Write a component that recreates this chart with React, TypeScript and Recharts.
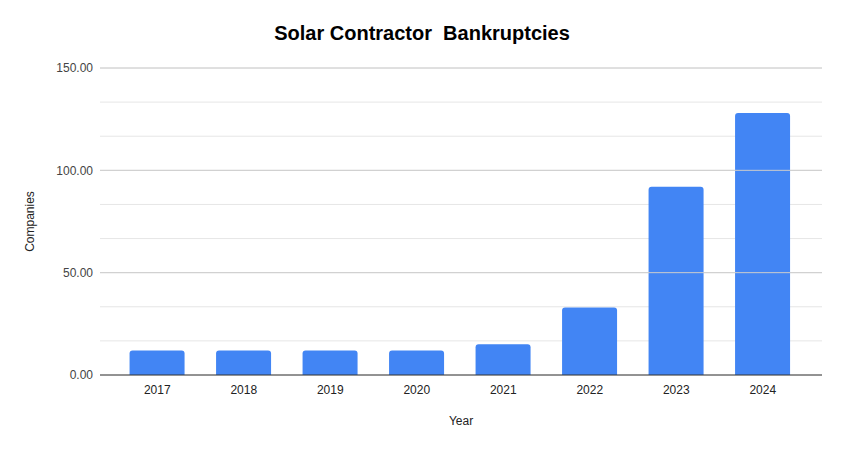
import { BarChart, Bar, XAxis, YAxis, CartesianGrid, ReferenceLine } from "recharts";

const years = ["2017", "2018", "2019", "2020", "2021", "2022", "2023", "2024"];
const companies = [12, 12, 12, 12, 15, 33, 92, 128];
const gridTicks = [0, 50 / 3, 100 / 3, 50, 200 / 3, 250 / 3, 100, 350 / 3, 400 / 3, 150];
const majorTicks = [50, 100, 150];

const data = years.map((year, i) => ({ year, companies: companies[i] }));

const font = "'Liberation Sans', Arial, sans-serif";

export default function App() {
  return (
    <div style={{ position: "relative", width: 844, height: 450, fontFamily: font, background: "#fff" }}>
      <style>{"body{margin:0}"}</style>
      <div
        style={{
          position: "absolute",
          top: 22,
          left: 0,
          width: 844,
          textAlign: "center",
          fontSize: 20,
          fontWeight: "bold",
          whiteSpace: "pre",
          color: "#000",
        }}
      >
        Solar Contractor  Bankruptcies
      </div>
      <BarChart
        width={844}
        height={450}
        data={data}
        margin={{ top: 68, right: 22, left: 0, bottom: 20 }}
        barCategoryGap="18%"
      >
        <CartesianGrid vertical={false} stroke="#e6e6e6" />
        {majorTicks.map((v) => (
          <ReferenceLine key={v} y={v} stroke="#cccccc" />
        ))}
        <XAxis
          dataKey="year"
          height={55}
          padding={{ left: 14, right: 16 }}
          tickLine={false}
          axisLine={{ stroke: "#333333" }}
          tick={{ fontSize: 12, fill: "#222222", fontFamily: font }}
          tickMargin={4}
          label={{ value: "Year", position: "insideBottom", offset: 5, fontSize: 12, fill: "#222222", fontFamily: font }}
        />
        <YAxis
          width={100}
          domain={[0, 150]}
          ticks={gridTicks}
          interval={0}
          tickLine={false}
          axisLine={false}
          tick={{ fontSize: 12, fill: "#444444", fontFamily: font }}
          tickMargin={1}
          tickFormatter={(v: number) => (majorTicks.includes(v) || v === 0 ? v.toFixed(2) : "")}
          label={{
            value: "Companies",
            angle: -90,
            position: "insideLeft",
            offset: 30,
            fontSize: 12,
            fill: "#222222",
            fontFamily: font,
            style: { textAnchor: "middle" },
          }}
        />
        <Bar dataKey="companies" fill="#4285f4" radius={[3, 3, 0, 0]} isAnimationActive={false} />
      </BarChart>
    </div>
  );
}
